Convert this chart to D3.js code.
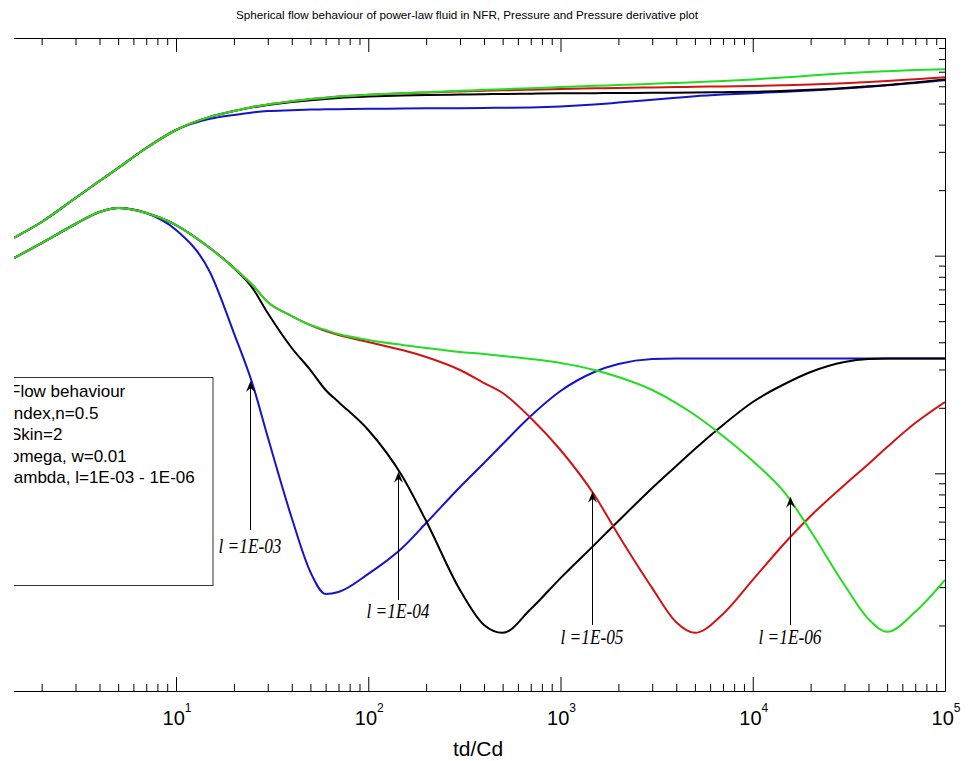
<!DOCTYPE html>
<html>
<head>
<meta charset="utf-8">
<script src="https://cdn.jsdelivr.net/npm/d3@7"></script>
<style>
body { margin: 0; background: #fff; }
</style>
</head>
<body>
<div id="chart"></div>
<script>
// dimensionless time grid, td/Cd
var tD = [1.44, 2, 3, 4, 5, 7, 10, 15, 20, 25, 30, 40, 50, 60, 70, 100, 150, 200, 300, 400, 500,
    700, 1000, 1500, 2000, 3000, 4000, 5000, 7000, 1e4, 1.5e4, 2e4, 3e4, 4e4, 5e4, 7e4, 1e5];

// pressure, one per lambda
var pL3 = [1.21, 1.428, 1.84, 2.203, 2.528, 3.123, 3.778, 4.25, 4.43, 4.55, 4.62, 4.66, 4.69, 4.70, 4.71, 4.73,
    4.74, 4.75, 4.76, 4.77, 4.78, 4.80, 4.85, 4.95, 5.05, 5.20, 5.31, 5.40, 5.50, 5.58, 5.67, 5.74, 5.86, 5.97,
    6.06, 6.22, 6.40];
var pL4 = [1.21, 1.428, 1.84, 2.203, 2.528, 3.123, 3.778, 4.34, 4.62, 4.80, 4.92, 5.08, 5.18, 5.25, 5.30, 5.38,
    5.44, 5.47, 5.50, 5.52, 5.53, 5.55, 5.57, 5.58, 5.59, 5.60, 5.61, 5.62, 5.64, 5.66, 5.72, 5.78, 5.90, 6.00,
    6.08, 6.25, 6.45];
var pL5 = [1.21, 1.428, 1.84, 2.203, 2.528, 3.123, 3.778, 4.34, 4.62, 4.82, 4.95, 5.12, 5.24, 5.32, 5.38, 5.48,
    5.57, 5.62, 5.68, 5.72, 5.75, 5.79, 5.83, 5.87, 5.90, 5.93, 5.95, 5.97, 5.99, 6.02, 6.07, 6.11, 6.20, 6.28,
    6.35, 6.47, 6.60];
var pL6 = [1.21, 1.428, 1.84, 2.203, 2.528, 3.123, 3.778, 4.34, 4.62, 4.82, 4.95, 5.12, 5.24, 5.32, 5.38, 5.48,
    5.58, 5.64, 5.72, 5.78, 5.82, 5.88, 5.95, 6.03, 6.08, 6.16, 6.22, 6.27, 6.35, 6.45, 6.60, 6.72, 6.88, 6.98,
    7.04, 7.12, 7.18];

// pressure derivative, one per lambda
var dL3 = [0.976, 1.143, 1.398, 1.587, 1.656, 1.570, 1.312, 0.841, 0.441, 0.2573, 0.1468, 0.0623, 0.0352, 0.0279,
    0.0285, 0.0345, 0.0454, 0.0591, 0.0866, 0.1116, 0.1364, 0.1834, 0.2389, 0.2921, 0.3178, 0.3352, 0.337,
    0.337, 0.337, 0.337, 0.337, 0.337, 0.337, 0.337, 0.337, 0.337, 0.337];
var dL4 = [0.976, 1.143, 1.398, 1.587, 1.656, 1.570, 1.383, 1.084, 0.878, 0.710, 0.545, 0.3765, 0.2983, 0.2415,
    0.2127, 0.1581, 0.0972, 0.0604, 0.0291, 0.0201, 0.0185, 0.0238, 0.0330, 0.0469, 0.0604, 0.0856, 0.1081,
    0.1294, 0.1668, 0.2127, 0.260, 0.2921, 0.3248, 0.3352, 0.337, 0.337, 0.337];
var dL5 = [0.976, 1.143, 1.398, 1.587, 1.656, 1.570, 1.383, 1.084, 0.878, 0.733, 0.6126, 0.528, 0.480, 0.4506,
    0.432, 0.4013, 0.3686, 0.3424, 0.2983, 0.260, 0.2339, 0.1796, 0.1280, 0.0795, 0.0521, 0.0297, 0.0207,
    0.0185, 0.0226, 0.0324, 0.0489, 0.0637, 0.0884, 0.1104, 0.1321, 0.1703, 0.2127];
var dL6 = [0.976, 1.143, 1.398, 1.587, 1.656, 1.570, 1.383, 1.084, 0.878, 0.733, 0.6126, 0.528, 0.480, 0.4555,
    0.4365, 0.410, 0.389, 0.3765, 0.3609, 0.3534, 0.346, 0.3352, 0.3213, 0.2983, 0.2771, 0.2415, 0.2104,
    0.1854, 0.1484, 0.1139, 0.0795, 0.0543, 0.0307, 0.0214, 0.0187, 0.0231, 0.0324];

var seriesColors = ["#1414c8", "#000000", "#d01414", "#22dd22"];

// arrow annotations: label, t, tip value, tail value, label baseline value
var annotLabels = ["l =1E-03", "l =1E-04", "l =1E-05", "l =1E-06"];
var annotT = [24.3, 142, 1453, 15620];
var annotTip = [0.2656, 0.1018, 0.0823, 0.0781];
var annotTail = [0.0549, 0.0262, 0.0201, 0.0201];
var annotText = [0.0431, 0.02165, 0.01644, 0.01644];

var legendLines = ["Flow behaviour", "index,n=0.5", "Skin=2", "omega, w=0.01", "lambda, l=1E-03 - 1E-06"];

var xMajor = [10, 100, 1000, 1e4, 1e5];
var xExp = ["1", "2", "3", "4", "5"];

var width = 977, height = 761;
var plot = {left: 14, right: 945, top: 38, bottom: 691};

var x = d3.scaleLog().domain([1.436, 1e5]).range([plot.left, plot.right]);
var y = d3.scaleLog().domain([0.01, 10]).range([plot.bottom, plot.top]);

var xMinor = [];
[1, 10, 100, 1000, 10000].forEach(function(dec) {
    for (var m = 2; m < 10; m++) xMinor.push(m * dec);
});
var yMajor = [0.01, 0.1, 1, 10];
var yMinor = [];
[0.01, 0.1, 1].forEach(function(dec) {
    for (var m = 2; m < 10; m++) yMinor.push(m * dec);
});

var svg = d3.select("#chart")
    .append("svg")
    .attr("width", width)
    .attr("height", height)
    .style("font-family", "'Liberation Sans', Arial, sans-serif");

svg.append("defs").append("clipPath")
    .attr("id", "clip")
    .append("rect")
    .attr("x", plot.left)
    .attr("y", plot.top)
    .attr("width", plot.right - plot.left)
    .attr("height", plot.bottom - plot.top);

// title
svg.append("text")
    .attr("x", 467)
    .attr("y", 19)
    .attr("text-anchor", "middle")
    .attr("font-size", 11.5)
    .attr("textLength", 462)
    .attr("lengthAdjust", "spacingAndGlyphs")
    .text("Spherical flow behaviour of power-law fluid in NFR, Pressure and Pressure derivative plot");

function addTicks(axis, translate, values, size) {
    var g = svg.append("g")
        .attr("transform", translate)
        .call(axis.tickValues(values).tickSize(size).tickFormat(""));
    g.select(".domain").remove();
    g.selectAll("line").attr("stroke", "#000");
}

addTicks(d3.axisBottom(x), `translate(0, ${plot.bottom})`, xMajor, -14);
addTicks(d3.axisBottom(x), `translate(0, ${plot.bottom})`, xMinor, -7);
addTicks(d3.axisTop(x), `translate(0, ${plot.top})`, xMajor, -14);
addTicks(d3.axisTop(x), `translate(0, ${plot.top})`, xMinor, -7);
addTicks(d3.axisRight(y), `translate(${plot.right}, 0)`, yMajor, -10);
addTicks(d3.axisRight(y), `translate(${plot.right}, 0)`, yMinor, -6);

// frame (left side is cut off)
var frame = svg.append("g").attr("stroke", "#000").attr("stroke-width", 1);
frame.append("line").attr("x1", plot.left).attr("x2", plot.right + 0.5)
    .attr("y1", plot.top + 0.5).attr("y2", plot.top + 0.5);
frame.append("line").attr("x1", plot.left).attr("x2", plot.right + 0.5)
    .attr("y1", plot.bottom + 0.5).attr("y2", plot.bottom + 0.5);
frame.append("line").attr("x1", plot.right + 0.5).attr("x2", plot.right + 0.5)
    .attr("y1", plot.top).attr("y2", plot.bottom + 0.5);

// x tick labels
xMajor.forEach(function(v, i) {
    var t = svg.append("text")
        .attr("x", x(v) + 1)
        .attr("y", 725)
        .attr("text-anchor", "middle")
        .attr("font-size", 20);
    t.append("tspan").text("10");
    t.append("tspan").attr("font-size", 12).attr("dy", -13).text(xExp[i]);
});

svg.append("text")
    .attr("x", 478)
    .attr("y", 756)
    .attr("text-anchor", "middle")
    .attr("font-size", 21)
    .text("td/Cd");

// curves
var line = d3.line()
    .x(function(d) { return x(d[0]); })
    .y(function(d) { return y(d[1]); })
    .curve(d3.curveMonotoneX);

var curvesG = svg.append("g").attr("clip-path", "url(#clip)");
var pressure = [pL3, pL4, pL5, pL6];
var derivative = [dL3, dL4, dL5, dL6];
[0, 1, 2, 3].forEach(function(k) {
    [pressure[k], derivative[k]].forEach(function(vals) {
        curvesG.append("path")
            .datum(d3.zip(tD, vals))
            .attr("d", line)
            .attr("fill", "none")
            .attr("stroke", seriesColors[k])
            .attr("stroke-width", 2);
    });
});

// legend text box, cut at the left
var legendG = svg.append("g").attr("clip-path", "url(#clip)");
legendG.append("rect")
    .attr("x", -20)
    .attr("y", 377.5)
    .attr("width", 233)
    .attr("height", 208)
    .attr("fill", "#fff")
    .attr("stroke", "#333");
legendLines.forEach(function(s, i) {
    legendG.append("text")
        .attr("x", 10)
        .attr("y", 397 + i * 21.5)
        .attr("font-size", 17)
        .text(s);
});

// lambda arrows
var annotG = svg.append("g");
annotLabels.forEach(function(s, i) {
    var ax = Math.round(x(annotT[i])) + 0.5;
    var tipY = y(annotTip[i]);
    annotG.append("line")
        .attr("x1", ax).attr("x2", ax)
        .attr("y1", y(annotTail[i])).attr("y2", tipY + 4)
        .attr("stroke", "#000")
        .attr("stroke-width", 1);
    annotG.append("path")
        .attr("d", `M${ax},${tipY} L${ax + 4.5},${tipY + 11} L${ax},${tipY + 7} L${ax - 4.5},${tipY + 11} Z`)
        .attr("fill", "#000");
    annotG.append("text")
        .attr("x", ax - 32)
        .attr("y", y(annotText[i]))
        .attr("font-family", "'Liberation Serif', 'Times New Roman', serif")
        .attr("font-style", "italic")
        .attr("font-size", 21)
        .attr("textLength", 63)
        .attr("lengthAdjust", "spacingAndGlyphs")
        .text(s);
});
</script>
</body>
</html>
